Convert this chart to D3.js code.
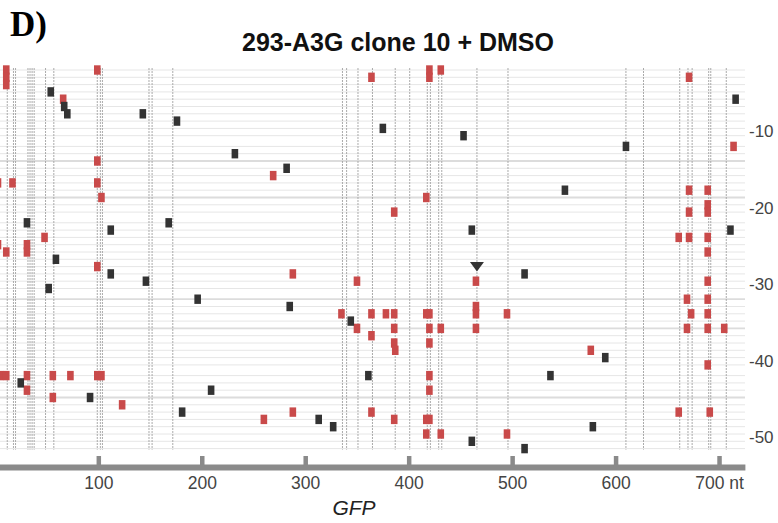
<!DOCTYPE html>
<html>
<head>
<meta charset="utf-8">
<script src="https://cdn.jsdelivr.net/npm/d3@7"></script>
<style>
  body { margin: 0; background: #fff; }
  svg { display: block; }
</style>
</head>
<body>
<svg id="chart"></svg>
<script>
/**
 * CONSTANTS AND DATA
 * */
const width = 778,
  height = 523;

// sequences (rows), grouped by ten
const rowCount = 51;
const groupBreaks = [10, 20, 30, 40];
const thickRows = [13, 18, 31, 35, 44];
const rowTicks = [10, 20, 30, 40, 50];

// GFP position ticks (nt)
const xTicks = [100, 200, 300, 400, 500, 600, 700];

// columns with mutated sites (nt)
const siteLines = [12, 18, 20, 32, 34, 36, 38, 49, 57, 99, 102, 104, 149, 152, 172,
  336, 340, 351, 365, 387, 401, 418, 421, 429, 432, 466, 496,
  610, 627, 662, 670, 674, 690, 692, 707];

// G->A mutations: [position nt, sequence]
const gaMuts = [
  [12, 1], [12, 2], [12, 3], [100, 1], [365, 2], [421, 1], [421, 2], [432, 1], [672, 2],
  [67, 5], [715, 11], [100, 13], [270, 15],
  [4, 16], [18, 16], [100, 16], [672, 17], [690, 17],
  [104, 18], [418, 18], [690, 19], [387, 20], [672, 20], [690, 20],
  [49, 23], [662, 23], [672, 23], [690, 23], [4, 24], [32, 24],
  [12, 25], [32, 25], [690, 25], [100, 27], [289, 28],
  [351, 29], [466, 29], [690, 29], [670, 31], [690, 31], [466, 32],
  [336, 33], [365, 33], [379, 33], [387, 33], [418, 33], [421, 33], [466, 33], [496, 33], [674, 33], [690, 33],
  [351, 35], [387, 35], [421, 35], [432, 35], [466, 35], [670, 35], [690, 35], [706, 35],
  [365, 36], [387, 37], [421, 37], [388, 38], [577, 38], [690, 40],
  [6, 41], [12, 41], [32, 41], [57, 41], [74, 41], [100, 41], [104, 41], [421, 41],
  [32, 43], [421, 43], [57, 44], [124, 45],
  [289, 46], [365, 46], [662, 46], [692, 46],
  [261, 47], [387, 47], [418, 47], [421, 47],
  [418, 49], [432, 49], [496, 49]
];

// other mutations: [position nt, sequence]
const otherMuts = [
  [55, 4], [717, 5], [68, 6], [71, 7], [144, 7], [177, 8], [376, 9], [454, 10], [611, 11],
  [233, 12], [283, 14], [552, 17],
  [32, 21], [169, 21], [113, 22], [462, 22], [712, 22],
  [60, 26], [113, 28], [513, 28], [147, 29], [53, 30], [197, 31], [286, 32], [345, 34],
  [591, 39], [362, 41], [538, 41], [26, 42], [210, 43], [93, 44], [182, 46],
  [314, 47], [328, 48], [579, 48], [462, 50], [513, 51]
];

// marked site: [position nt, sequence]
const markers = [[466, 27]];

const red = "#c94a4a",
  dark = "#333333",
  markW = 6.6,
  markH = 9.4;

/**
 * SCALES
 * */
const xScale = d3.scaleLinear().domain([0, 725]).range([-5.15, 744.9]);

// gap of ~half a row after each group of ten
const gapUnits = 0.466;
const virtualRow = k => (k - 1) + gapUnits * groupBreaks.filter(b => k > b).length;
const yScale = d3.scaleLinear()
  .domain([0, virtualRow(rowCount)])
  .range([70, 448.6]);
const rowY = k => yScale(virtualRow(k));

/**
 * DRAW
 * */
const svg = d3.select("#chart")
  .attr("width", width)
  .attr("height", height)
  .style("font-family", "'Liberation Sans', Arial, Helvetica, sans-serif");

// panel letter and title
svg.append("text")
  .attr("x", 10).attr("y", 36)
  .style("font-family", "'Liberation Serif', 'Times New Roman', serif")
  .style("font-weight", "bold")
  .style("font-size", "35px")
  .text("D)");

svg.append("text")
  .attr("x", 398).attr("y", 51)
  .attr("text-anchor", "middle")
  .style("font-weight", "bold")
  .style("font-size", "25px")
  .attr("fill", "#111")
  .text("293-A3G clone 10 + DMSO");

// sequence lines
const rows = d3.range(1, rowCount + 1);
svg.append("g")
  .selectAll("line")
  .data(rows)
  .join("line")
  .attr("x1", 0)
  .attr("x2", 745)
  .attr("y1", d => rowY(d))
  .attr("y2", d => rowY(d))
  .attr("stroke", d => thickRows.includes(d) ? "#dcdcdc" : "#e6e6e6")
  .attr("stroke-width", d => thickRows.includes(d) ? 1.8 : 1);

// site columns
svg.append("g")
  .selectAll("line")
  .data(siteLines)
  .join("line")
  .attr("x1", d => xScale(d))
  .attr("x2", d => xScale(d))
  .attr("y1", rowY(1) - 2)
  .attr("y2", rowY(rowCount) + 1)
  .attr("stroke", "#a2a2a2")
  .attr("stroke-width", 0.9)
  .attr("stroke-dasharray", "2,1");

// mutations
svg.append("g")
  .selectAll("rect")
  .data(gaMuts)
  .join("rect")
  .attr("x", d => xScale(d[0]) - 1 - markW / 2)
  .attr("y", d => rowY(d[1]) - markH / 2)
  .attr("width", markW)
  .attr("height", markH)
  .attr("fill", red);

svg.append("g")
  .selectAll("rect")
  .data(otherMuts)
  .join("rect")
  .attr("x", d => xScale(d[0]) - 1 - markW / 2)
  .attr("y", d => rowY(d[1]) - markH / 2)
  .attr("width", markW)
  .attr("height", markH)
  .attr("fill", dark);

svg.append("g")
  .selectAll("path")
  .data(markers)
  .join("path")
  .attr("transform", d => `translate(${xScale(d[0])},${rowY(d[1])})`)
  .attr("d", "M-7,-4.7L7,-4.7L0,5Z")
  .attr("fill", dark);

// sequence numbers on the right
svg.append("g")
  .selectAll("text")
  .data(rowTicks)
  .join("text")
  .attr("x", 749)
  .attr("y", d => rowY(d) + 1.8)
  .style("font-size", "17px")
  .attr("fill", "#444")
  .text(d => "-" + d);

// x axis
const xAxis = d3.axisBottom(xScale)
  .tickValues(xTicks)
  .tickSizeInner(-11)
  .tickSizeOuter(0)
  .tickPadding(10)
  .tickFormat(d => d === 700 ? "700 nt" : d);

const gx = svg.append("g")
  .attr("transform", "translate(0,467)")
  .call(xAxis);

gx.select(".domain")
  .attr("stroke", "#8a8a8a")
  .attr("stroke-width", 6);
gx.selectAll(".tick line")
  .attr("stroke", "#8a8a8a")
  .attr("stroke-width", 4.5);
gx.selectAll(".tick text")
  .attr("fill", "#444")
  .style("font-family", "'Liberation Sans', Arial, sans-serif")
  .style("font-size", "17.5px");

svg.append("text")
  .attr("x", 354).attr("y", 515)
  .attr("text-anchor", "middle")
  .style("font-style", "italic")
  .style("font-size", "21px")
  .attr("fill", "#222")
  .text("GFP");
</script>
</body>
</html>
